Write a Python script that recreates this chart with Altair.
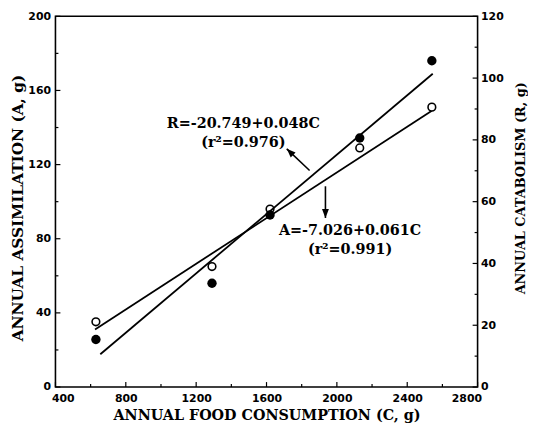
import altair as alt
import pandas as pd

# ---- observed data ----
C_obs = [630, 1290, 1620, 2130, 2540]
A_obs = [35.2, 65.0, 96.0, 129.0, 151.0]      # open circles, left axis
R_obs = [15.4, 33.6, 55.7, 80.6, 105.6]       # filled circles, right axis

# ---- fitted lines (end points) ----
A_line_C = [625, 2540]
A_line_v = [31.1, 149.0]
R_line_C = [655, 2545]
R_line_v = [10.6, 101.4]

# ---- axis ticks ----
x_major = [400, 800, 1200, 1600, 2000, 2400, 2800]
x_minor = [600, 1000, 1400, 1800, 2200, 2600]
A_major = [0, 40, 80, 120, 160, 200]
A_minor = [20, 60, 100, 140, 180]
R_major = [0, 20, 40, 60, 80, 100, 120]
R_minor = [10, 30, 50, 70, 90, 110]

# ---- annotations ----
ann_text = ["R=-20.749+0.048C", "(r²=0.976)", "A=-7.026+0.061C", "(r²=0.991)"]
ann_C = [1468, 1468, 2075, 2075]
ann_A = [141.9, 131.7, 84.3, 74.1]

arrow_id = ["R", "R", "A", "A"]
arrow_C = [1845, 1715, 1935, 1935]
arrow_A = [116.8, 128.5, 108.3, 91.2]
head_C = [1715, 1935]
head_A = [128.5, 91.2]
head_angle = [314, 180]

W, H = 427, 375
SERIF = "DejaVu Serif"
SANS = "DejaVu Sans"

xs = alt.Scale(domain=[400, 2800], nice=False, zero=False)
ys_A = alt.Scale(domain=[0, 200], nice=False, zero=False)
ys_R = alt.Scale(domain=[0, 120], nice=False, zero=False)

obs = pd.DataFrame({"C": C_obs, "A": A_obs, "R": R_obs})
lineA = pd.DataFrame({"C": A_line_C, "v": A_line_v})
lineR = pd.DataFrame({"C": R_line_C, "v": R_line_v})
ann = pd.DataFrame({"C": ann_C, "A": ann_A, "t": ann_text})
arr = pd.DataFrame({"id": arrow_id, "C": arrow_C, "A": arrow_A})
heads = pd.DataFrame({"C": head_C, "A": head_A, "ang": head_angle})

x_axis = alt.Axis(
    values=x_major, format="d", ticks=False, tickSize=0, domain=False, grid=False,
    labelFont=SANS, labelFontWeight="bold", labelFontSize=11, labelColor="black",
    labelPadding=6, labelFlush=True, labelFlushOffset=4,
    title="ANNUAL FOOD CONSUMPTION (C, g)", titleFont=SERIF, titleFontWeight="bold",
    titleFontSize=14.5, titleColor="black", titleY=29, titleBaseline="middle",
)
A_axis = alt.Axis(
    orient="left", values=A_major, format="d", ticks=False, tickSize=0, domain=False,
    grid=False, labelFont=SANS, labelFontWeight="bold", labelFontSize=11,
    labelColor="black", labelPadding=5,
    title="ANNUAL ASSIMILATION (A, g)", titleFont=SERIF, titleFontWeight="bold",
    titleFontSize=15.5, titleColor="black", titleAngle=270, titleX=-38, titleY=H / 2 + 6,
    titleAlign="center", titleBaseline="middle",
)
R_axis = alt.Axis(
    orient="right", values=R_major, format="d", ticks=False, tickSize=0, domain=False,
    grid=False, labelFont=SANS, labelFontWeight="bold", labelFontSize=11,
    labelColor="black", labelPadding=3,
    title="ANNUAL CATABOLISM (R, g)", titleFont=SERIF, titleFontWeight="bold",
    titleFontSize=13, titleColor="black", titleAngle=270, titleX=43, titleY=H / 2 - 14,
    titleAlign="center", titleBaseline="middle",
)

X = lambda f="C:Q": alt.X(f, scale=xs, axis=x_axis)
YA = lambda f: alt.Y(f, scale=ys_A, axis=A_axis)
YR = lambda f: alt.Y(f, scale=ys_R, axis=R_axis)

# ---- left-scale layers ----
a_line = alt.Chart(lineA).mark_line(color="black", strokeWidth=1.8).encode(
    x=X(), y=YA("v:Q"))
a_pts = alt.Chart(obs).mark_point(
    shape="circle", filled=False, fill="white", fillOpacity=1, color="black",
    stroke="black", strokeWidth=1.6, size=60, opacity=1,
).encode(x=X(), y=YA("A:Q"))

texts = alt.Chart(ann).mark_text(
    font=SERIF, fontWeight="bold", fontSize=14.5, color="black",
    align="center", baseline="middle",
).encode(x=X(), y=YA("A:Q"), text="t:N")

arrows = alt.Chart(arr).mark_line(color="black", strokeWidth=1.6).encode(
    x=X(), y=YA("A:Q"), detail="id:N")
arrowheads = alt.Chart(heads).mark_point(
    shape="M0,0L-0.7,1.8L0.7,1.8Z", filled=True, color="black", size=100, opacity=1,
).encode(x=X(), y=YA("A:Q"), angle=alt.Angle("ang:Q", scale=None))

x_ticks_major = alt.Chart(pd.DataFrame({"C": x_major})).mark_rule(
    color="black", strokeWidth=1.2).encode(
    x=X(), y=alt.value(H), y2=alt.value(H - 5))
x_ticks_minor = alt.Chart(pd.DataFrame({"C": x_minor})).mark_rule(
    color="black", strokeWidth=1.2).encode(
    x=X(), y=alt.value(H), y2=alt.value(H - 3))
A_ticks_major = alt.Chart(pd.DataFrame({"v": A_major})).mark_rule(
    color="black", strokeWidth=1.2).encode(
    y=YA("v:Q"), x=alt.value(0), x2=alt.value(5))
A_ticks_minor = alt.Chart(pd.DataFrame({"v": A_minor})).mark_rule(
    color="black", strokeWidth=1.2).encode(
    y=YA("v:Q"), x=alt.value(0), x2=alt.value(3))

left = alt.layer(a_line, a_pts, texts, arrows, arrowheads,
                 x_ticks_major, x_ticks_minor, A_ticks_major, A_ticks_minor)

# ---- right-scale layers ----
r_line = alt.Chart(lineR).mark_line(color="black", strokeWidth=1.8).encode(
    x=X(), y=YR("v:Q"))
r_pts = alt.Chart(obs).mark_circle(color="black", size=90, opacity=1).encode(
    x=X(), y=YR("R:Q"))
R_ticks_major = alt.Chart(pd.DataFrame({"v": R_major})).mark_rule(
    color="black", strokeWidth=1.2).encode(
    y=YR("v:Q"), x=alt.value(W - 5), x2=alt.value(W))
R_ticks_minor = alt.Chart(pd.DataFrame({"v": R_minor})).mark_rule(
    color="black", strokeWidth=1.2).encode(
    y=YR("v:Q"), x=alt.value(W - 3), x2=alt.value(W))

right = alt.layer(r_line, r_pts, R_ticks_major, R_ticks_minor)

chart = alt.layer(left, right).resolve_scale(y="independent").properties(
    width=W, height=H,
    padding={"left": 48, "top": 6, "right": 51, "bottom": 35},
    autosize=alt.AutoSizeParams(type="none"),
    background="white",
).configure_view(stroke="black", strokeWidth=1.6)

chart.save("out.html", embed_options={"renderer": "svg", "actions": False})
